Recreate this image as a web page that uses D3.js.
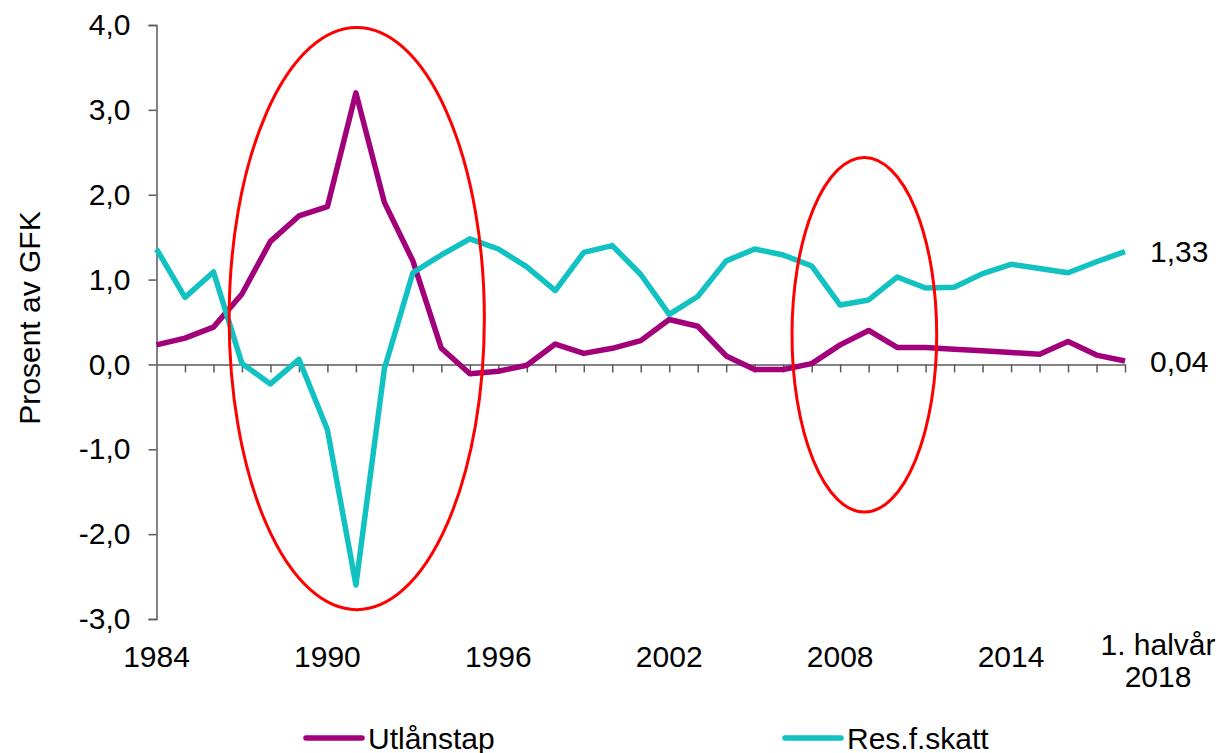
<!DOCTYPE html>
<html>
<head>
<meta charset="utf-8">
<script src="https://cdn.jsdelivr.net/npm/d3@7"></script>
<style>
  html, body { margin: 0; padding: 0; background: #ffffff; }
  svg { display: block; }
  text { font-family: "Liberation Sans", Arial, sans-serif; fill: #000; }
</style>
</head>
<body>
<script>
// ---- Data ----
const years = d3.range(1984, 2019).map(String);
const utlanstap = [0.23, 0.31, 0.44, 0.83, 1.45, 1.75, 1.86, 3.20, 1.91, 1.22, 0.19, -0.11,
  -0.08, -0.01, 0.24, 0.13, 0.19, 0.28, 0.53, 0.45, 0.10, -0.06, -0.06, 0.01,
  0.23, 0.40, 0.20, 0.20, 0.18, 0.16, 0.14, 0.12, 0.27, 0.11, 0.04];
const resFSkatt = [1.36, 0.79, 1.09, 0.01, -0.23, 0.06, -0.77, -2.60, -0.05, 1.08, 1.29, 1.48,
  1.36, 1.15, 0.87, 1.32, 1.40, 1.06, 0.59, 0.80, 1.22, 1.36, 1.29, 1.16,
  0.70, 0.76, 1.03, 0.90, 0.91, 1.07, 1.18, 1.13, 1.08, 1.21, 1.33];
const seriesNames = ["Utlånstap", "Res.f.skatt"];
const seriesColors = ["#a2007a", "#12c2c2"];
const yTicks = [-3, -2, -1, 0, 1, 2, 3, 4];
const xLabelYears = ["1984", "1990", "1996", "2002", "2008", "2014"];
const lastLabel = ["1. halvår", "2018"];
const endLabels = ["0,04", "1,33"];
const yTitle = "Prosent av GFK";
// annotation ellipses: centre year, centre value, half-width (years), half-height (value units)
const ellipses = [
  { cx: 1991.03, cy: 0.54, rx: 4.48, ry: 3.43 },
  { cx: 2008.85, cy: 0.35, rx: 2.54, ry: 2.09 }
];

// ---- Layout ----
const W = 1219, H = 753;
const svg = d3.select("body").append("svg").attr("width", W).attr("height", H);

const x = d3.scalePoint().domain(years).range([156.5, 1125]);
const y = d3.scaleLinear().domain([-3, 4]).range([619, 25]);
const pxPerYear = x.step();

const locale = d3.formatLocale({ decimal: ",", thousands: " ", grouping: [3], currency: ["", ""], minus: "-" });
const fmt = locale.format(".1f");

const axisColor = "#5a5a5a";
const fs = 30;

// Y axis
const yAxis = svg.append("g")
  .attr("transform", `translate(${x(years[0])},0)`)
  .call(d3.axisLeft(y).tickValues(yTicks).tickFormat(fmt).tickSize(8).tickPadding(18));
yAxis.select(".domain").attr("stroke", axisColor).attr("stroke-width", 1.5);
yAxis.selectAll(".tick line").attr("stroke", axisColor).attr("stroke-width", 1.5);
yAxis.selectAll(".tick text").attr("font-size", fs).attr("font-family", "Liberation Sans, Arial, sans-serif").attr("fill", "#000");

// X axis at zero
const xAxis = svg.append("g")
  .attr("transform", `translate(0,${y(0)})`)
  .call(d3.axisBottom(x).tickValues(years.slice(1)).tickFormat("").tickSize(8).tickSizeOuter(0));
xAxis.select(".domain").attr("stroke", axisColor).attr("stroke-width", 1.5);
xAxis.selectAll(".tick line").attr("stroke", axisColor).attr("stroke-width", 1.5);

// X labels at bottom
svg.append("g").selectAll("text").data(xLabelYears).join("text")
  .attr("x", d => x(d)).attr("y", 667)
  .attr("text-anchor", "middle").attr("font-size", fs).text(d => d);
const ll = svg.append("text").attr("x", x("2018") + 33).attr("y", 655)
  .attr("text-anchor", "middle").attr("font-size", fs);
ll.selectAll("tspan").data(lastLabel).join("tspan")
  .attr("x", x("2018") + 33).attr("dy", (d, i) => i === 0 ? 0 : 32).text(d => d);

// Y title
svg.append("text")
  .attr("transform", `translate(40,318) rotate(-90)`)
  .attr("text-anchor", "middle").attr("font-size", 30).text(yTitle);

// Lines
const line = d3.line().x((d, i) => x(years[i])).y(d => y(d)).curve(d3.curveLinear);
const seriesData = [utlanstap, resFSkatt];
svg.append("g").selectAll("path").data(seriesData).join("path")
  .attr("d", line).attr("fill", "none")
  .attr("stroke", (d, i) => seriesColors[i]).attr("stroke-width", 5.5)
  .attr("stroke-linejoin", "round").attr("stroke-linecap", "butt");

// End labels
svg.append("g").selectAll("text").data(seriesData).join("text")
  .attr("x", x("2018") + 25).attr("y", d => y(d[d.length - 1]))
  .attr("dy", "0.35em").attr("font-size", fs)
  .text((d, i) => endLabels[i]);

// Ellipses
const yearPos = v => x(years[0]) + (v - 1984) * pxPerYear;
svg.append("g").selectAll("ellipse").data(ellipses).join("ellipse")
  .attr("cx", d => yearPos(d.cx)).attr("cy", d => y(d.cy))
  .attr("rx", d => d.rx * pxPerYear).attr("ry", d => y(0) - y(d.ry))
  .attr("fill", "none").attr("stroke", "#ff0000").attr("stroke-width", 3);

// Legend
const legendX = [306, 785];
const lg = svg.append("g").selectAll("g").data(seriesNames).join("g")
  .attr("transform", (d, i) => `translate(${legendX[i]},738)`);
lg.append("line").attr("x1", 0).attr("x2", 56).attr("y1", 0).attr("y2", 0)
  .attr("stroke", (d, i) => seriesColors[i]).attr("stroke-width", 5.5).attr("stroke-linecap", "round");
lg.append("text").attr("x", 62).attr("dy", "0.35em").attr("font-size", fs).text(d => d);
</script>
</body>
</html>
